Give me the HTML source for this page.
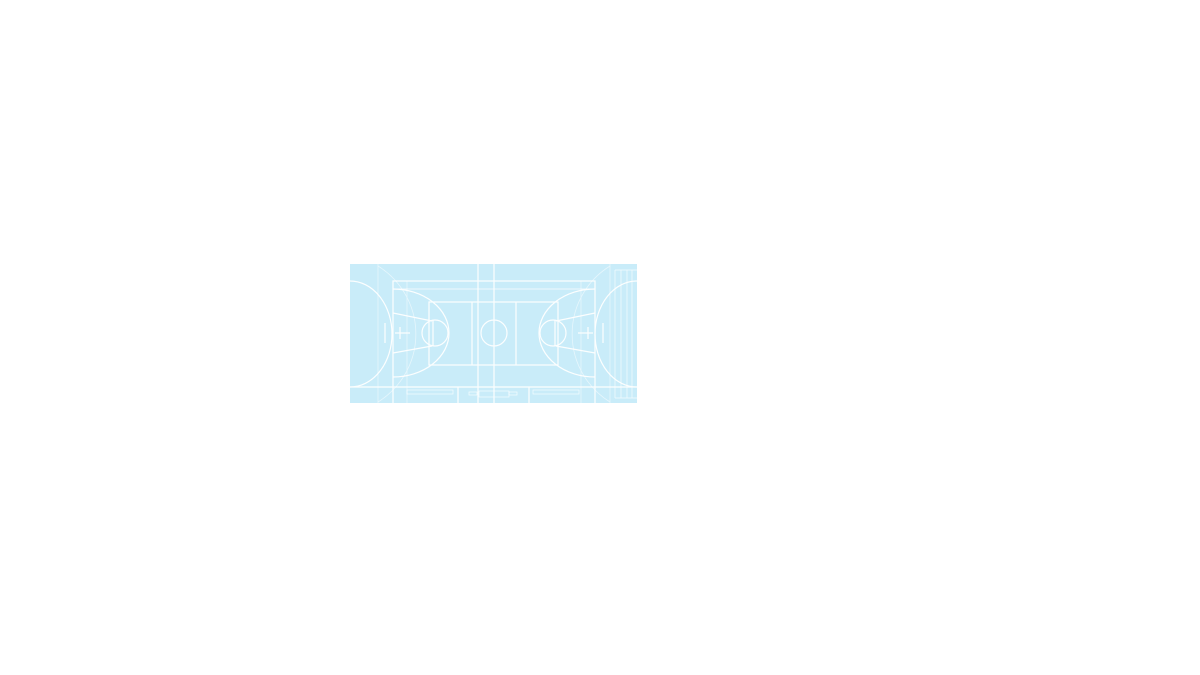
<!DOCTYPE html>
<html><head><style>html,body{margin:0;padding:0;background:#fff;width:1200px;height:675px;overflow:hidden}</style></head>
<body>
<svg width="1200" height="675" xmlns="http://www.w3.org/2000/svg" style="position:absolute;left:0;top:0">
<rect x="350" y="264" width="287" height="139" fill="#c9ecf9"/>
<g fill="none" stroke="#ffffff" stroke-width="1.2" opacity="0.95">
 <rect x="393" y="281" width="202" height="130"/>
 <line x1="393" y1="289" x2="595" y2="289" stroke-width="0.8"/>
 <line x1="350" y1="387" x2="637" y2="387"/>
 <line x1="494" y1="264" x2="494" y2="403"/>
 <line x1="478" y1="264" x2="478" y2="403"/>
 <rect x="429" y="302" width="129" height="63"/>
 <line x1="472" y1="302" x2="472" y2="365"/>
 <line x1="516" y1="302" x2="516" y2="365"/>
 <circle cx="494" cy="333" r="13"/>
 <path d="M350 281 A42 53 0 0 1 350 387"/>
 <path d="M393 289 A56 44 0 0 1 393 377"/>
 <line x1="393" y1="313" x2="432" y2="321"/>
 <line x1="393" y1="353" x2="432" y2="346"/>
 <circle cx="435" cy="333" r="13"/>
 <line x1="433" y1="320" x2="433" y2="346"/>
 <line x1="385" y1="323" x2="385" y2="343"/>
 <line x1="400" y1="327" x2="400" y2="339"/>
 <line x1="395" y1="333" x2="410" y2="333"/>
 <path d="M637 281 A42 53 0 0 0 637 387"/>
 <path d="M595 289 A56 44 0 0 0 595 377"/>
 <line x1="595" y1="313" x2="556" y2="321"/>
 <line x1="595" y1="353" x2="556" y2="346"/>
 <circle cx="553" cy="333" r="13"/>
 <line x1="555" y1="320" x2="555" y2="346"/>
 <line x1="603" y1="323" x2="603" y2="343"/>
 <line x1="588" y1="327" x2="588" y2="339"/>
 <line x1="578" y1="333" x2="593" y2="333"/>
 <rect x="407" y="390" width="46" height="4" stroke-width="0.6"/>
 <rect x="533" y="390" width="46" height="4" stroke-width="0.6"/>
 <rect x="479" y="391" width="30" height="6" stroke-width="0.6"/>
 <rect x="469" y="392" width="8" height="3" stroke-width="0.6"/>
 <rect x="509" y="392" width="8" height="3" stroke-width="0.6"/>
 <line x1="458" y1="387" x2="458" y2="403"/>
 <line x1="529" y1="387" x2="529" y2="403"/>
</g>
<g fill="none" stroke="#ffffff" stroke-width="0.7" opacity="0.8">
 <line x1="615" y1="270" x2="637" y2="270"/>
 <line x1="615" y1="270" x2="615" y2="398"/>
 <line x1="621" y1="270" x2="621" y2="398"/>
 <line x1="627" y1="270" x2="627" y2="398"/>
 <line x1="632" y1="270" x2="632" y2="398"/>
 <line x1="615" y1="398" x2="637" y2="398"/>
</g>
<g fill="none" stroke="#ffffff" stroke-width="0.8" opacity="0.55">
 <line x1="378" y1="264" x2="378" y2="403"/>
 <line x1="407" y1="281" x2="407" y2="403"/>
 <line x1="610" y1="264" x2="610" y2="403"/>
 <line x1="581" y1="281" x2="581" y2="403"/>
 <path d="M378 266 A80 80 0 0 1 378 402"/>
 <path d="M610 266 A80 80 0 0 0 610 402"/>
</g>
</svg>
</body></html>
